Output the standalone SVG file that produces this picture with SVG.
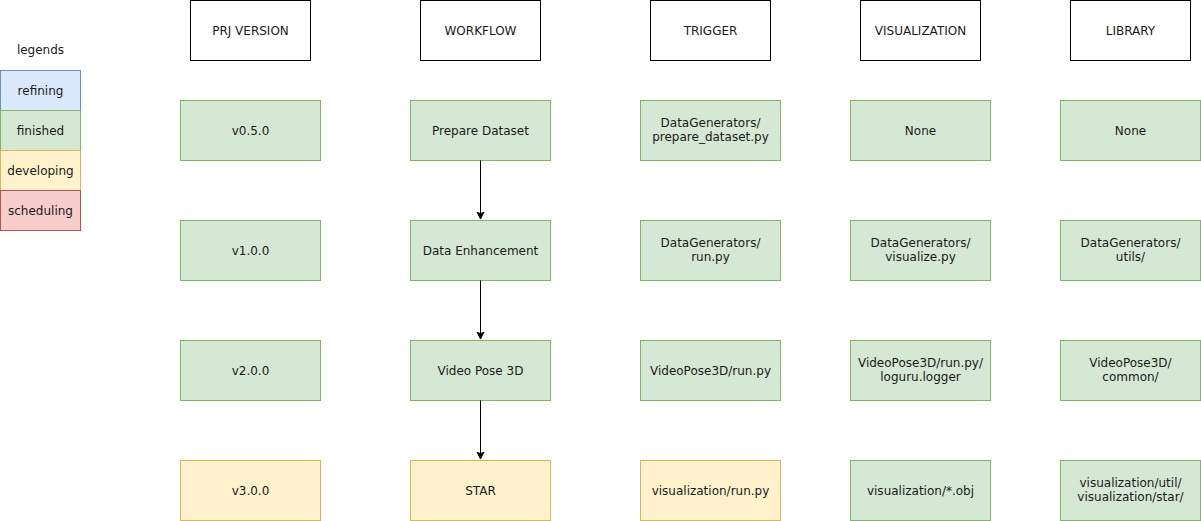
<svg xmlns="http://www.w3.org/2000/svg" width="1201" height="521" viewBox="0 0 1201 521">
<style>
text{font-family:"DejaVu Sans","Liberation Sans",sans-serif;font-size:12px;fill:#1a1a1a;text-anchor:middle}
rect{stroke-width:1}
.h{fill:#fff;stroke:#000}
.g{fill:#d5e8d4;stroke:#82b366}
.y{fill:#fff2cc;stroke:#d6b656}
.b{fill:#dae8fc;stroke:#6c8ebf}
.r{fill:#f8cecc;stroke:#b85450}
.e{stroke:#000;stroke-width:1;fill:none}
</style>
<defs>
<marker id="arr" markerWidth="10" markerHeight="10" refX="7" refY="4" orient="auto" markerUnits="userSpaceOnUse">
<path d="M0,0.5 L7,4 L0,7.5 L1.8,4 Z" fill="#000" stroke="#000" stroke-width="1"/>
</marker>
</defs>
<rect width="1201" height="521" fill="#fff"/>
<g id="legend">
<text x="40.5" y="54">legends</text>
<g id="lg-refining"><rect class="b" x="0.5" y="70.5" width="80" height="40"/><text x="40.5" y="94.5">refining</text></g>
<g id="lg-finished"><rect class="g" x="0.5" y="110.5" width="80" height="40"/><text x="40.5" y="134.5">finished</text></g>
<g id="lg-developing"><rect class="y" x="0.5" y="150.5" width="80" height="40"/><text x="40.5" y="174.5">developing</text></g>
<g id="lg-scheduling"><rect class="r" x="0.5" y="190.5" width="80" height="40"/><text x="40.5" y="214.5">scheduling</text></g>
</g>
<g id="h-prj"><rect class="h" x="190.5" y="0.5" width="120" height="60"/><text x="250.5" y="34.5">PRJ VERSION</text></g>
<g id="h-workflow"><rect class="h" x="420.5" y="0.5" width="120" height="60"/><text x="480.5" y="34.5">WORKFLOW</text></g>
<g id="h-trigger"><rect class="h" x="650.5" y="0.5" width="120" height="60"/><text x="710.5" y="34.5">TRIGGER</text></g>
<g id="h-vis"><rect class="h" x="860.5" y="0.5" width="120" height="60"/><text x="920.5" y="34.5">VISUALIZATION</text></g>
<g id="h-lib"><rect class="h" x="1070.5" y="0.5" width="120" height="60"/><text x="1130.5" y="34.5">LIBRARY</text></g>

<g id="v050"><rect class="g" x="180.5" y="100.5" width="140" height="60"/><text x="250.5" y="134.5">v0.5.0</text></g>
<g id="v100"><rect class="g" x="180.5" y="220.5" width="140" height="60"/><text x="250.5" y="254.5">v1.0.0</text></g>
<g id="v200"><rect class="g" x="180.5" y="340.5" width="140" height="60"/><text x="250.5" y="374.5">v2.0.0</text></g>
<g id="v300"><rect class="y" x="180.5" y="460.5" width="140" height="60"/><text x="250.5" y="494.5">v3.0.0</text></g>

<g id="wf1"><rect class="g" x="410.5" y="100.5" width="140" height="60"/><text x="480.5" y="134.5">Prepare Dataset</text></g>
<g id="wf2"><rect class="g" x="410.5" y="220.5" width="140" height="60"/><text x="480.5" y="254.5">Data Enhancement</text></g>
<g id="wf3"><rect class="g" x="410.5" y="340.5" width="140" height="60"/><text x="480.5" y="374.5">Video Pose 3D</text></g>
<g id="wf4"><rect class="y" x="410.5" y="460.5" width="140" height="60"/><text x="480.5" y="494.5">STAR</text></g>

<g id="tr1"><rect class="g" x="640.5" y="100.5" width="140" height="60"/><text x="710.5" y="127">DataGenerators/</text><text x="710.5" y="141">prepare_dataset.py</text></g>
<g id="tr2"><rect class="g" x="640.5" y="220.5" width="140" height="60"/><text x="710.5" y="247">DataGenerators/</text><text x="710.5" y="261">run.py</text></g>
<g id="tr3"><rect class="g" x="640.5" y="340.5" width="140" height="60"/><text x="710.5" y="374.5">VideoPose3D/run.py</text></g>
<g id="tr4"><rect class="y" x="640.5" y="460.5" width="140" height="60"/><text x="710.5" y="494.5">visualization/run.py</text></g>

<g id="vi1"><rect class="g" x="850.5" y="100.5" width="140" height="60"/><text x="920.5" y="134.5">None</text></g>
<g id="vi2"><rect class="g" x="850.5" y="220.5" width="140" height="60"/><text x="920.5" y="247">DataGenerators/</text><text x="920.5" y="261">visualize.py</text></g>
<g id="vi3"><rect class="g" x="850.5" y="340.5" width="140" height="60"/><text x="920.5" y="367">VideoPose3D/run.py/</text><text x="920.5" y="381">loguru.logger</text></g>
<g id="vi4"><rect class="g" x="850.5" y="460.5" width="140" height="60"/><text x="920.5" y="494.5">visualization/*.obj</text></g>

<g id="li1"><rect class="g" x="1060.5" y="100.5" width="140" height="60"/><text x="1130.5" y="134.5">None</text></g>
<g id="li2"><rect class="g" x="1060.5" y="220.5" width="140" height="60"/><text x="1130.5" y="247">DataGenerators/</text><text x="1130.5" y="261">utils/</text></g>
<g id="li3"><rect class="g" x="1060.5" y="340.5" width="140" height="60"/><text x="1130.5" y="367">VideoPose3D/</text><text x="1130.5" y="381">common/</text></g>
<g id="li4"><rect class="g" x="1060.5" y="460.5" width="140" height="60"/><text x="1130.5" y="487">visualization/util/</text><text x="1130.5" y="501">visualization/star/</text></g>

<g id="connectors">
<path class="e" d="M480.5,160.5 V219" marker-end="url(#arr)"/>
<path class="e" d="M480.5,280.5 V339" marker-end="url(#arr)"/>
<path class="e" d="M480.5,400.5 V459" marker-end="url(#arr)"/>
</g>
</svg>
